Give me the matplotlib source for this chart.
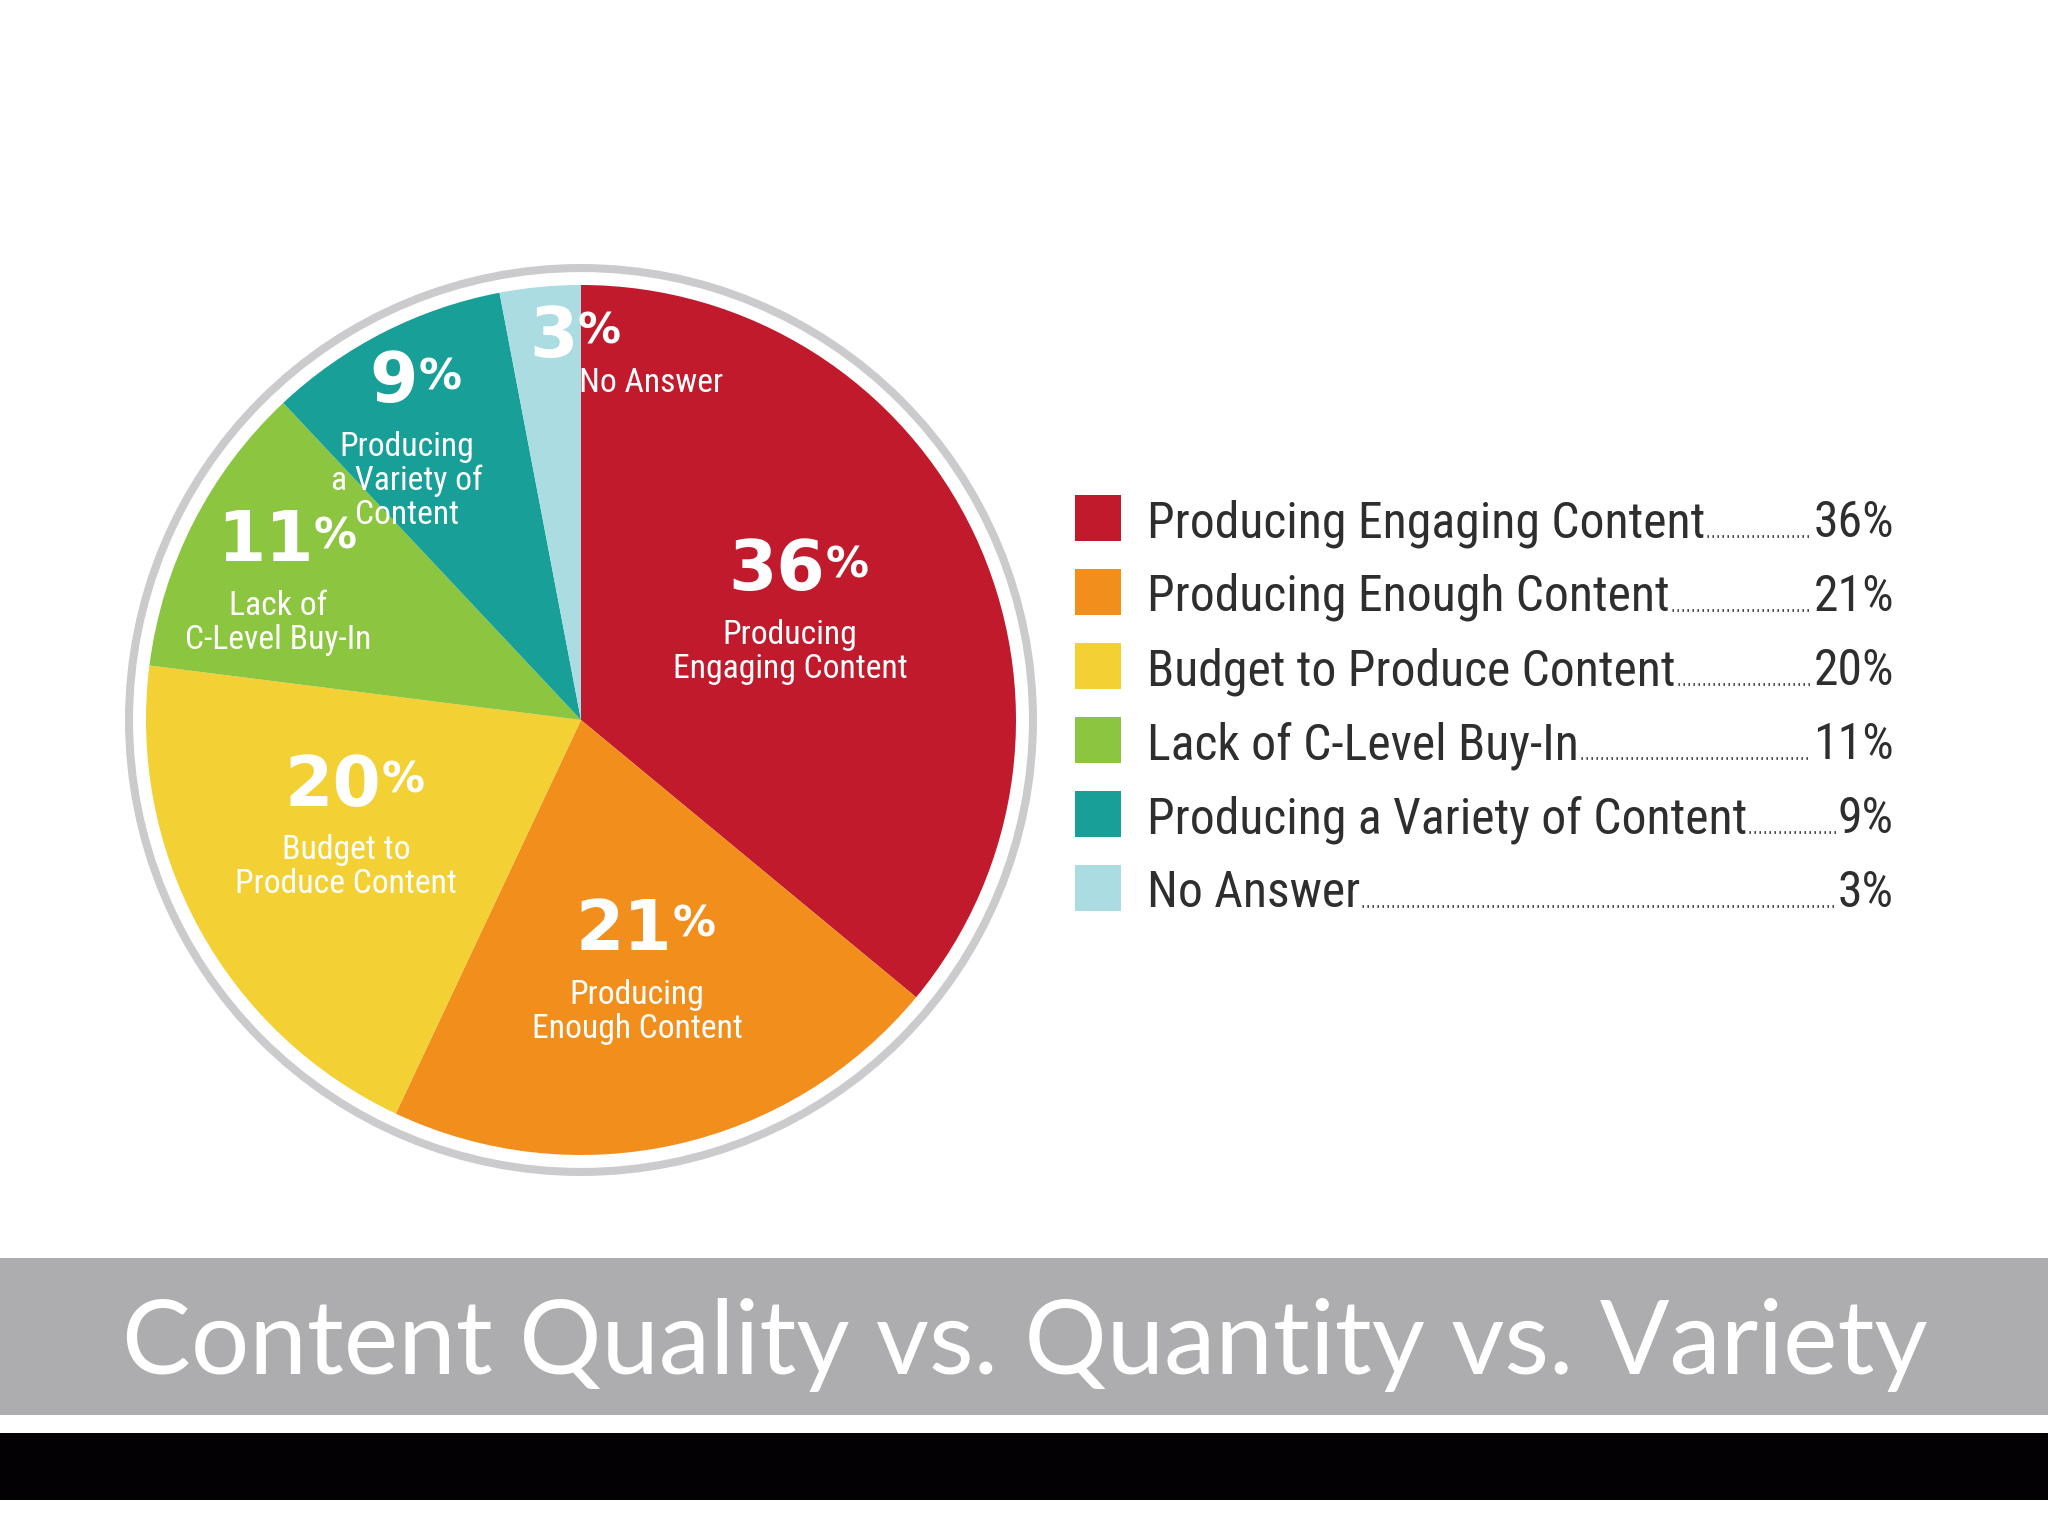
import matplotlib
matplotlib.use('Agg')
import matplotlib.pyplot as plt
from matplotlib import font_manager
from matplotlib.font_manager import FontProperties
from matplotlib.patches import Circle, Rectangle
from matplotlib.lines import Line2D
import numpy as np

categories = ['Producing Engaging Content', 'Producing Enough Content', 'Budget to Produce Content',
              'Lack of C-Level Buy-In', 'Producing a Variety of Content', 'No Answer']
values = [36, 21, 20, 11, 9, 3]
pie_labels = [['Producing', 'Engaging Content'], ['Producing', 'Enough Content'],
              ['Budget to', 'Produce Content'], ['Lack of', 'C-Level Buy-In'],
              ['Producing', 'a Variety of', 'Content'], ['No Answer']]
colors = ['#C11A2D', '#F28F1C', '#F3D034', '#8CC540', '#18A098', '#AADCE2']
title = 'Content Quality vs. Quantity vs. Variety'

# label placement: radius (pie radii) and angle shift from the wedge middle
label_r = [0.607, 0.507, 0.542, 0.79, 0.863, 0.88]
label_shift = [9.2, 4.5, -12.5, -4.2, -0.9, -4.5]

W, H = 2048, 1536


def narrow_font():
    # the reference uses a condensed grotesque; take whatever condensed face is installed
    fonts = font_manager.fontManager.ttflist
    names = {f.name for f in fonts}
    for n in ['Liberation Sans Narrow', 'Roboto Condensed', 'Arimo Narrow']:
        if n in names:
            return FontProperties(family=n)
    for fam in ['Liberation Sans', 'Roboto', 'Noto Sans', 'DejaVu Sans', 'Open Sans']:
        for f in fonts:
            if f.name == fam and f.stretch in ('condensed', 'semi-condensed') and f.style == 'normal' \
                    and f.weight in (400, 'normal', 'regular', 'book'):
                return FontProperties(family=fam, stretch=f.stretch)
    return FontProperties(family='Liberation Sans')


fig = plt.figure(figsize=(W / 100, H / 100), dpi=100)
fig.patch.set_facecolor('white')
renderer = fig.canvas.get_renderer()
NARROW = narrow_font()


def fy(px):
    # pixel row from the top -> figure fraction
    return 1 - px / H


def fit(s, target_px, fp, base=30):
    # font size that makes s about target_px wide
    t = fig.text(0, 0, s, fontproperties=fp, fontsize=base)
    w = t.get_window_extent(renderer).width
    t.remove()
    return base * target_px / w


# title band and black strip
fig.add_artist(Rectangle((0, fy(1415)), 1, (1415 - 1258) / H, transform=fig.transFigure,
                         color='#ADACAF', lw=0))
fig.add_artist(Rectangle((0, fy(1500)), 1, (1500 - 1433) / H, transform=fig.transFigure,
                         color='#030104', lw=0))
title_fp = FontProperties(family='Lato')
fig.text(1025 / W, fy(1374), title, color='white', fontproperties=title_fp,
         fontsize=fit(title, 1803, title_fp), ha='center', va='baseline')

# pie
cx, cy, R = 581, 720, 435
half = 1.15 * R
ax = fig.add_axes([(cx - half) / W, fy(cy + half), 2 * half / W, 2 * half / H])
wedges, _ = ax.pie(values, colors=colors, startangle=90, counterclock=False, radius=1,
                   wedgeprops=dict(linewidth=0))
ax.set_xlim(-1.15, 1.15)
ax.set_ylim(-1.15, 1.15)
ax.set_aspect('equal')
ax.axis('off')
ax.add_patch(Circle((0, 0), 1.039, fill=False, edgecolor='#CBCBCD', linewidth=5.8))

sub_size = fit('Engaging Content', 235, NARROW)
for w, v, lines, r, sh in zip(wedges, values, pie_labels, label_r, label_shift):
    ang = np.deg2rad((w.theta1 + w.theta2) / 2 + sh)
    x, y = r * np.cos(ang), r * np.sin(ang)
    num = ax.text(x - 0.05, y, str(v), ha='center', va='center', fontsize=50,
                  fontweight='bold', color='white', family='DejaVu Sans')
    ax.annotate('%', xy=(1.0, 0.9), xycoords=num, ha='left', va='top', fontsize=31,
                fontweight='bold', color='white', family='DejaVu Sans')
    if len(lines) == 1:
        ax.text(x + 0.01, y - 0.105, lines[0], ha='left', va='center', fontsize=sub_size,
                fontproperties=NARROW, color='white')
        continue
    for i, line in enumerate(lines):
        ax.text(x - 0.02, y - 0.147 - i * 0.078, line, ha='center', va='center',
                fontsize=sub_size, fontproperties=NARROW, color='white')

# legend with dot leaders
leg_size = fit(categories[0], 558, NARROW)
rows = []
for i, (cat, v, c) in enumerate(zip(categories, values, colors)):
    yc = 518 + i * 74
    fig.add_artist(Rectangle((1075 / W, fy(yc + 23)), 46 / W, 46 / H, transform=fig.transFigure,
                             color=c, lw=0))
    t1 = fig.text(1147 / W, fy(yc + 19), cat, ha='left', va='baseline', fontsize=leg_size,
                  fontproperties=NARROW, color='#2E2E2E')
    t2 = fig.text(1894 / W, fy(yc + 19), f'{v}%', ha='right', va='baseline', fontsize=leg_size,
                  fontproperties=NARROW, color='#2E2E2E')
    rows.append((t1, t2, yc + 18))

fig.canvas.draw()
for t1, t2, ypx in rows:
    x0 = t1.get_window_extent(renderer).x1 + 2
    x1 = t2.get_window_extent(renderer).x0 - 2
    fig.add_artist(Line2D([x0 / W, x1 / W], [fy(ypx), fy(ypx)], transform=fig.transFigure,
                          color='#2E2E2E', lw=2.0, linestyle=(0, (0.5, 1.3))))

fig.savefig('out.png', dpi=100, facecolor='white')
